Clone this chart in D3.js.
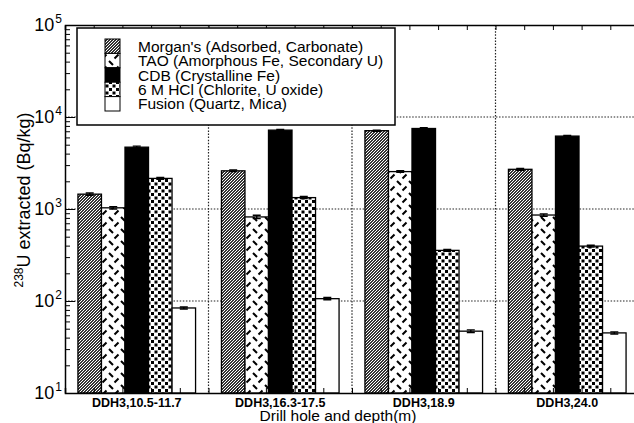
<!DOCTYPE html>
<html>
<head>
<meta charset="utf-8">
<script src="https://cdn.jsdelivr.net/npm/d3@7"></script>
<style>
  body { margin: 0; background: #fff; }
  svg { display: block; font-family: "Liberation Sans", Arial, Helvetica, sans-serif; }
</style>
</head>
<body>
<script>

// data

const categories = ["DDH3,10.5-11.7", "DDH3,16.3-17.5", "DDH3,18.9", "DDH3,24.0"];
const seriesNames = [
  "Morgan's (Adsorbed, Carbonate)",
  "TAO (Amorphous Fe, Secondary U)",
  "CDB (Crystalline Fe)",
  "6 M HCl (Chlorite, U oxide)",
  "Fusion (Quartz, Mica)"
];
const morgans = [1450, 2600, 7100, 2700];
const tao = [1030, 820, 2550, 860];
const cdb = [4700, 7200, 7500, 6200];
const hcl = [2150, 1330, 355, 395];
const fusion = [84, 106, 47, 45];

const morgansErr = [40, 50, 100, 60];
const taoErr = [30, 35, 50, 25];
const cdbErr = [120, 120, 130, 90];
const hclErr = [50, 35, 8, 8];
const fusionErr = [2, 3, 1.5, 1.2];

const yTicks = [10, 100, 1000, 10000, 100000];

const seriesValues = [morgans, tao, cdb, hcl, fusion];
const seriesErrors = [morgansErr, taoErr, cdbErr, hclErr, fusionErr];
const fills = ["url(#hatch)", "url(#dash)", "#000", "url(#dots)", "#fff"];

const w = 634;
const h = 423;
const margin = {top: 25, right: -5, bottom: 30, left: 65};
const innerWidth = w - margin.left - margin.right;
const innerHeight = h - margin.top - margin.bottom;

const svg = d3.select("body")
  .append("svg")
    .attr("width", w)
    .attr("height", h);

// fill patterns

const defs = svg.append("defs");

// fine diagonal hatch, pixel diagonals on a 3px tile
const hatch = defs.append("pattern")
    .attr("id", "hatch")
    .attr("patternUnits", "userSpaceOnUse")
    .attr("width", 3)
    .attr("height", 3);
hatch.append("rect").attr("width", 3).attr("height", 3).attr("fill", "#fff");
hatch.append("path")
    .attr("d", "M0,2h1v1h-1zM1,1h1v1h-1zM2,0h1v1h-1zM0,1h1v1h-1zM1,0h1v1h-1zM2,2h1v1h-1z")
    .attr("fill", "#333")
    .attr("shape-rendering", "crispEdges");

const dash = defs.append("pattern")
    .attr("id", "dash")
    .attr("patternUnits", "userSpaceOnUse")
    .attr("width", 12)
    .attr("height", 12);
dash.append("rect").attr("width", 12).attr("height", 12).attr("fill", "#fff");
dash.append("path")
    .attr("d", "M1,1 L5,5 M6.5,10.5 L10.5,6.5")
    .attr("stroke", "#000")
    .attr("stroke-width", 2)
    .attr("stroke-linecap", "butt");

const dots = defs.append("pattern")
    .attr("id", "dots")
    .attr("patternUnits", "userSpaceOnUse")
    .attr("width", 7)
    .attr("height", 7);
dots.append("rect").attr("width", 7).attr("height", 7).attr("fill", "#fff");
dots.append("rect").attr("x", 0.5).attr("y", 0.5).attr("width", 3).attr("height", 3).attr("fill", "#000");
dots.append("rect").attr("x", 4).attr("y", 4).attr("width", 3).attr("height", 3).attr("fill", "#000");

// scales

const xScale = d3.scaleBand()
    .domain(categories)
    .range([margin.left, margin.left + innerWidth]);

const xSub = d3.scaleBand()
    .domain(d3.range(seriesNames.length))
    .range([0, xScale.bandwidth()])
    .paddingOuter(0.55);

const xTickScale = d3.scaleLinear()
    .domain([0, 20])
    .range([margin.left, margin.left + innerWidth]);

const yScale = d3.scaleLog()
    .domain([10, 100000])
    .range([margin.top + innerHeight, margin.top]);

// gridlines

const grid = svg.append("g")
    .attr("stroke", "#222")
    .attr("stroke-width", 1.2)
    .attr("stroke-dasharray", "1.5,1.6");

grid.selectAll(".hgrid")
  .data(yTicks.slice(1, -1))
  .enter().append("line")
    .attr("x1", margin.left)
    .attr("x2", margin.left + innerWidth)
    .attr("y1", d => yScale(d))
    .attr("y2", d => yScale(d));

grid.selectAll(".vgrid")
  .data(categories.slice(1))
  .enter().append("line")
    .attr("x1", d => xScale(d))
    .attr("x2", d => xScale(d))
    .attr("y1", margin.top)
    .attr("y2", margin.top + innerHeight);

// bars

const rows = [];
categories.forEach((c, i) => {
  seriesValues.forEach((vals, j) => {
    rows.push({cat: c, s: j, value: vals[i], err: seriesErrors[j][i]});
  });
});

const bars = svg.append("g").attr("id", "plot");

bars.selectAll("rect")
  .data(rows)
  .enter().append("rect")
    .attr("x", d => xScale(d.cat) + xSub(d.s))
    .attr("y", d => yScale(d.value))
    .attr("width", xSub.bandwidth())
    .attr("height", d => yScale(10) - yScale(d.value))
    .attr("fill", d => fills[d.s])
    .attr("stroke", "#000")
    .attr("stroke-width", 1.3);

// error bars

const errs = svg.append("g")
    .attr("stroke", "#000")
    .attr("stroke-width", 1.4);

errs.selectAll(".eb")
  .data(rows)
  .enter().append("path")
    .attr("d", d => {
      const cx = xScale(d.cat) + xSub(d.s) + xSub.bandwidth() / 2;
      const y1 = yScale(d.value + d.err);
      const y0 = yScale(Math.max(d.value - d.err, 10));
      return `M${cx - 4},${y1}H${cx + 4}M${cx},${y1}V${y0}M${cx - 4},${y0}H${cx + 4}`;
    })
    .attr("fill", "none");

// axes

svg.append("g")
    .attr("transform", `translate(0, ${margin.top})`)
    .call(d3.axisTop(xTickScale).ticks(20).tickSize(-5).tickFormat(""))
    .call(g => g.select(".domain").attr("stroke-width", 1.5));

svg.append("g")
    .attr("transform", `translate(0, ${margin.top + innerHeight})`)
    .call(d3.axisBottom(xTickScale).ticks(20).tickSize(-5).tickFormat(""))
    .call(g => g.select(".domain").attr("stroke-width", 1.5));

const yAxis = svg.append("g")
    .attr("transform", `translate(${margin.left}, 0)`)
    .call(d3.axisLeft(yScale).tickSize(-5).tickFormat("").tickSizeOuter(0))
    .call(g => g.select(".domain").attr("stroke-width", 1.5));

yAxis.selectAll(".tick line")
    .filter(d => yTicks.includes(d))
    .attr("x2", 10);

// y tick labels, 10^n

const yLabels = svg.append("g")
    .attr("font-size", 18)
    .attr("fill", "#000");

yLabels.selectAll("text")
  .data(yTicks)
  .enter().append("text")
    .attr("x", 62)
    .attr("y", d => yScale(d) + 6)
    .attr("text-anchor", "end")
    .each(function (d) {
      const t = d3.select(this);
      t.append("tspan").text("10");
      t.append("tspan")
          .attr("dy", -8)
          .attr("dx", 1)
          .attr("font-size", 12)
          .text(Math.round(Math.log10(d)));
    });

// category labels

svg.append("g")
  .selectAll("text")
  .data(categories)
  .enter().append("text")
    .attr("x", d => xScale(d) + xScale.bandwidth() / 2)
    .attr("y", 407)
    .attr("text-anchor", "middle")
    .attr("font-size", 12.5)
    .attr("font-weight", "bold")
    .text(d => d);

// axis titles

svg.append("text")
    .attr("x", 338)
    .attr("y", 421)
    .attr("text-anchor", "middle")
    .attr("font-size", 15.5)
    .text("Drill hole and depth(m)");

const yTitle = svg.append("text")
    .attr("transform", "translate(30, 200) rotate(-90)")
    .attr("text-anchor", "middle")
    .attr("font-size", 18);
yTitle.append("tspan")
    .attr("font-size", 12)
    .attr("dy", -7)
    .text("238");
yTitle.append("tspan")
    .attr("dy", 7)
    .text("U extracted (Bq/kg)");

// legend

const legend = svg.append("g");

legend.append("rect")
    .attr("x", 77)
    .attr("y", 28)
    .attr("width", 318)
    .attr("height", 97)
    .attr("fill", "#fff")
    .attr("stroke", "#000")
    .attr("stroke-width", 1.5);

const legendRow = d3.scaleBand()
    .domain(d3.range(seriesNames.length))
    .range([39, 111]);

legend.selectAll(".sw")
  .data(seriesNames)
  .enter().append("rect")
    .attr("x", 105)
    .attr("y", (d, i) => legendRow(i))
    .attr("width", 15)
    .attr("height", legendRow.bandwidth())
    .attr("fill", (d, i) => fills[i])
    .attr("stroke", "#000")
    .attr("stroke-width", 1);

legend.selectAll(".lt")
  .data(seriesNames)
  .enter().append("text")
    .attr("x", 138)
    .attr("y", (d, i) => legendRow(i) + legendRow.bandwidth() / 2 + 5.5)
    .attr("font-size", 15.5)
    .text(d => d);

</script>
</body>
</html>
